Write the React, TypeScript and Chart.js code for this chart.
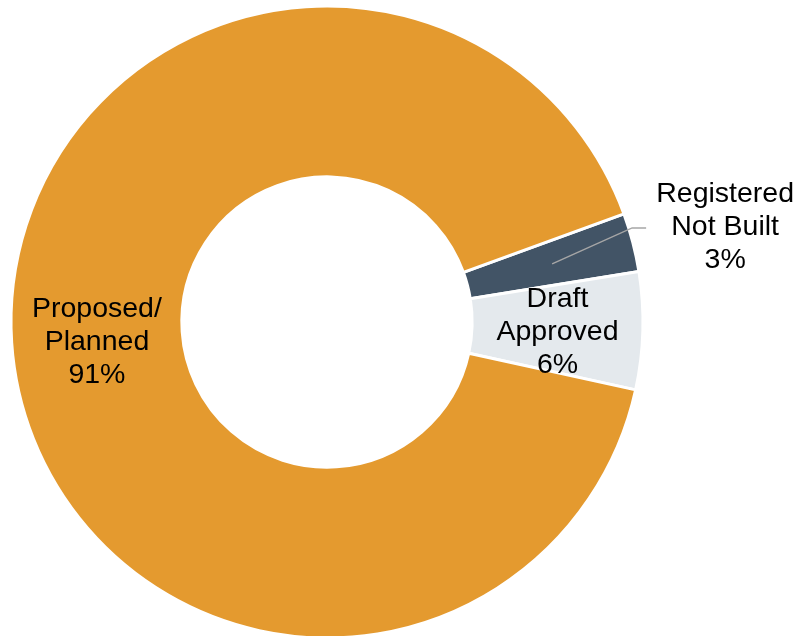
import React, { useEffect, useRef } from "react";
import { Chart, registerables } from "chart.js";

Chart.register(...registerables);

const categories = ["Registered Not Built", "Draft Approved", "Proposed/Planned"];
const labelLines = [["Registered", "Not Built"], ["Draft", "Approved"], ["Proposed/", "Planned"]];
const values = [3, 6, 91];
const percentLabels = ["3%", "6%", "91%"];
const colors = ["#425466", "#E4E9ED", "#E49A2F"];

const labelPlugin = {
  id: "sliceLabels",
  afterDraw(chart: any) {
    const ctx = chart.ctx;
    const meta = chart.getDatasetMeta(0);
    ctx.save();
    ctx.font = "28.5px 'Liberation Sans', Arial, sans-serif";
    ctx.fillStyle = "#000000";
    ctx.textAlign = "center";
    ctx.textBaseline = "middle";
    const lh = 33;
    meta.data.forEach((arc: any, i: number) => {
      const p = arc.tooltipPosition();
      let cx = p.x;
      let cy = p.y;
      if (i === 0) {
        // leader line to outside label
        const elbowX = p.x + 82;
        const elbowY = p.y - 36;
        ctx.strokeStyle = "#A6A6A6";
        ctx.lineWidth = 1.5;
        ctx.beginPath();
        ctx.moveTo(p.x + 2, p.y);
        ctx.lineTo(elbowX, elbowY);
        ctx.lineTo(elbowX + 14, elbowY);
        ctx.stroke();
        cx = p.x + 175;
        cy = p.y - 37;
      } else if (i === 1) {
        cy = p.y + 4;
      } else {
        cy = p.y + 5;
      }
      const lines = [...labelLines[i], percentLabels[i]];
      lines.forEach((t, k) => {
        ctx.fillText(t, cx, cy + (k - 1) * lh);
      });
    });
    ctx.restore();
  },
};

export default function App() {
  const ref = useRef<HTMLCanvasElement>(null);
  useEffect(() => {
    if (!ref.current) return;
    const chart = new Chart(ref.current, {
      type: "doughnut",
      data: {
        labels: categories,
        datasets: [
          {
            data: values,
            backgroundColor: colors,
            borderColor: "#FFFFFF",
            borderWidth: 3,
          },
        ],
      },
      options: {
        responsive: false,
        animation: false,
        rotation: 70,
        radius: 316,
        cutout: 144,
        layout: { padding: { left: 12, top: 7, right: 155, bottom: 13 } },
        plugins: {
          legend: { display: false },
          tooltip: { enabled: false },
        },
      },
      plugins: [labelPlugin],
    });
    return () => chart.destroy();
  }, []);
  return (
    <div
      style={{
        position: "fixed",
        left: 0,
        top: 0,
        width: 797,
        height: 636,
        overflow: "hidden",
        background: "#FFFFFF",
      }}
    >
      <canvas ref={ref} width={797} height={650} style={{ display: "block" }} />
    </div>
  );
}
